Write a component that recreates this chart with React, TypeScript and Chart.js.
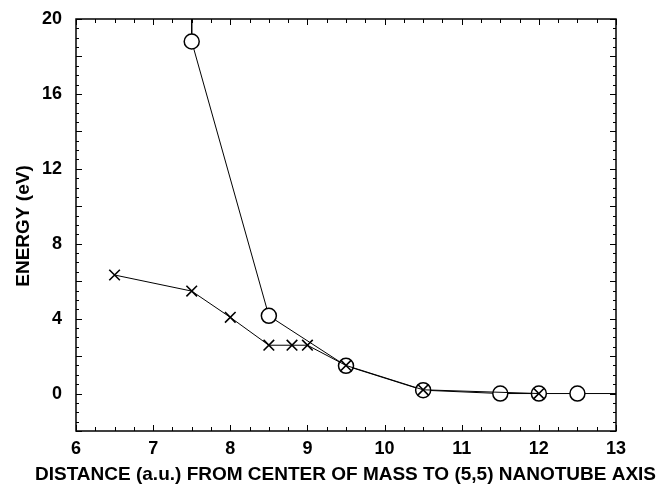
import React, { useEffect, useRef } from "react";
import { Chart, registerables } from "chart.js";

Chart.register(...registerables);

// Crosses (×) series
const crossX = [6.5, 7.5, 8.0, 8.5, 8.8, 9.0, 9.5, 10.5, 12.0];
const crossY = [6.33, 5.47, 4.07, 2.58, 2.58, 2.58, 1.5, 0.2, 0.0];

// Circles (○) series — first and last points lie outside the visible range (line continues off-plot)
const circleX = [7.5, 7.5, 8.5, 9.5, 10.5, 11.5, 12.0, 12.5, 13.5];
const circleY = [30, 18.8, 4.15, 1.48, 0.18, 0.0, 0.0, 0.0, 0.0];
const circleShown = [false, true, true, true, true, true, true, true, false];

const xMin = 6;
const xMax = 13;
const yMin = -2;
const yMax = 20;
const yTickLabels = [0, 4, 8, 12, 16, 20];
const xTickLabels = [6, 7, 8, 9, 10, 11, 12, 13];

const xTitle = "DISTANCE (a.u.) FROM CENTER OF MASS TO (5,5) NANOTUBE AXIS";
const yTitle = "ENERGY (eV)";

const FONT = '"Liberation Sans", Arial, Helvetica, sans-serif';

const framePlugin = {
  id: "frame",
  afterDatasetsDraw(chart: any) {
    const { ctx, chartArea: a, scales } = chart;
    const x = scales.x;
    const y = scales.y;
    ctx.save();
    ctx.strokeStyle = "#000";
    ctx.lineWidth = 1;
    const nx = Math.round((x.max - x.min) / 0.25);
    for (let i = 0; i <= nx; i++) {
      const v = x.min + i * 0.25;
      const px = Math.round(x.getPixelForValue(v)) + 0.5;
      const major = i % 4 === 0;
      const len = major ? 6 : 4;
      ctx.beginPath();
      ctx.moveTo(px, a.bottom);
      ctx.lineTo(px, a.bottom - len);
      ctx.moveTo(px, a.top);
      ctx.lineTo(px, a.top + len);
      ctx.stroke();
    }
    const ny = Math.round((y.max - y.min) / 0.5);
    for (let i = 0; i <= ny; i++) {
      const v = y.min + i * 0.5;
      const py = Math.round(y.getPixelForValue(v)) + 0.5;
      const major = Math.abs(v % 2) < 1e-9;
      const len = major ? 6 : 3;
      ctx.beginPath();
      ctx.moveTo(a.left, py);
      ctx.lineTo(a.left + len, py);
      ctx.moveTo(a.right, py);
      ctx.lineTo(a.right - len, py);
      ctx.stroke();
    }
    ctx.lineWidth = 1.5;
    ctx.strokeRect(a.left, a.top, a.right - a.left, a.bottom - a.top);

    // axis titles
    ctx.fillStyle = "#000";
    ctx.font = `bold 19px ${FONT}`;
    ctx.textAlign = "center";
    ctx.textBaseline = "alphabetic";
    ctx.fillText(xTitle, (a.left + a.right) / 2 - 0.5, a.bottom + 49);
    ctx.save();
    ctx.translate(29, (a.top + a.bottom) / 2 + 1);
    ctx.rotate(-Math.PI / 2);
    ctx.fillText(yTitle, 0, 0);
    ctx.restore();
    ctx.restore();
  },
};

export default function App() {
  const ref = useRef<HTMLCanvasElement | null>(null);

  useEffect(() => {
    if (!ref.current) return;
    const crossData = crossX.map((v, i) => ({ x: v, y: crossY[i] }));
    const circleData = circleX.map((v, i) => ({ x: v, y: circleY[i] }));
    const chart = new Chart(ref.current, {
      type: "line",
      data: {
        datasets: [
          {
            label: "x",
            data: crossData,
            borderColor: "#000",
            borderWidth: 1,
            pointStyle: "crossRot",
            pointRadius: 7.5,
            pointBorderWidth: 1.6,
            pointBorderColor: "#000",
            pointBackgroundColor: "#000",
            fill: false,
            tension: 0,
            order: 0,
          },
          {
            label: "o",
            data: circleData,
            borderColor: "#000",
            borderWidth: 1,
            pointStyle: "circle",
            pointRadius: circleShown.map((s) => (s ? 7.5 : 0)),
            pointBorderWidth: 1.5,
            pointBorderColor: "#000",
            pointBackgroundColor: "#fff",
            fill: false,
            tension: 0,
            order: 1,
          },
        ],
      },
      options: {
        animation: false,
        responsive: false,
        events: [],
        layout: { padding: { top: 19, right: 41, left: 0, bottom: 0 } },
        plugins: { legend: { display: false }, tooltip: { enabled: false } },
        scales: {
          x: {
            type: "linear",
            min: xMin,
            max: xMax,
            position: "bottom",
            grid: { display: false, drawTicks: false },
            border: { display: false },
            afterBuildTicks: (s: any) => {
              s.ticks = xTickLabels.map((v) => ({ value: v }));
            },
            afterFit: (s: any) => {
              s.height = 53;
              s.paddingLeft = 0;
              s.paddingRight = 0;
            },
            ticks: {
              color: "#000",
              font: { family: FONT, size: 18, weight: "bold" },
              padding: 7,
              maxRotation: 0,
              autoSkip: false,
            },
          },
          y: {
            type: "linear",
            min: yMin,
            max: yMax,
            position: "left",
            grid: { display: false, drawTicks: false },
            border: { display: false },
            afterBuildTicks: (s: any) => {
              s.ticks = yTickLabels.map((v) => ({ value: v }));
            },
            afterFit: (s: any) => {
              s.width = 76;
              s.paddingTop = 0;
              s.paddingBottom = 0;
            },
            ticks: {
              color: "#000",
              font: { family: FONT, size: 18, weight: "bold" },
              padding: 14,
              autoSkip: false,
            },
          },
        },
      },
      plugins: [framePlugin],
    } as any);
    return () => chart.destroy();
  }, []);

  return (
    <div style={{ position: "absolute", left: 0, top: 0, width: 657, height: 484, background: "#fff" }}>
      <canvas ref={ref} width={657} height={484} style={{ display: "block" }} />
    </div>
  );
}
